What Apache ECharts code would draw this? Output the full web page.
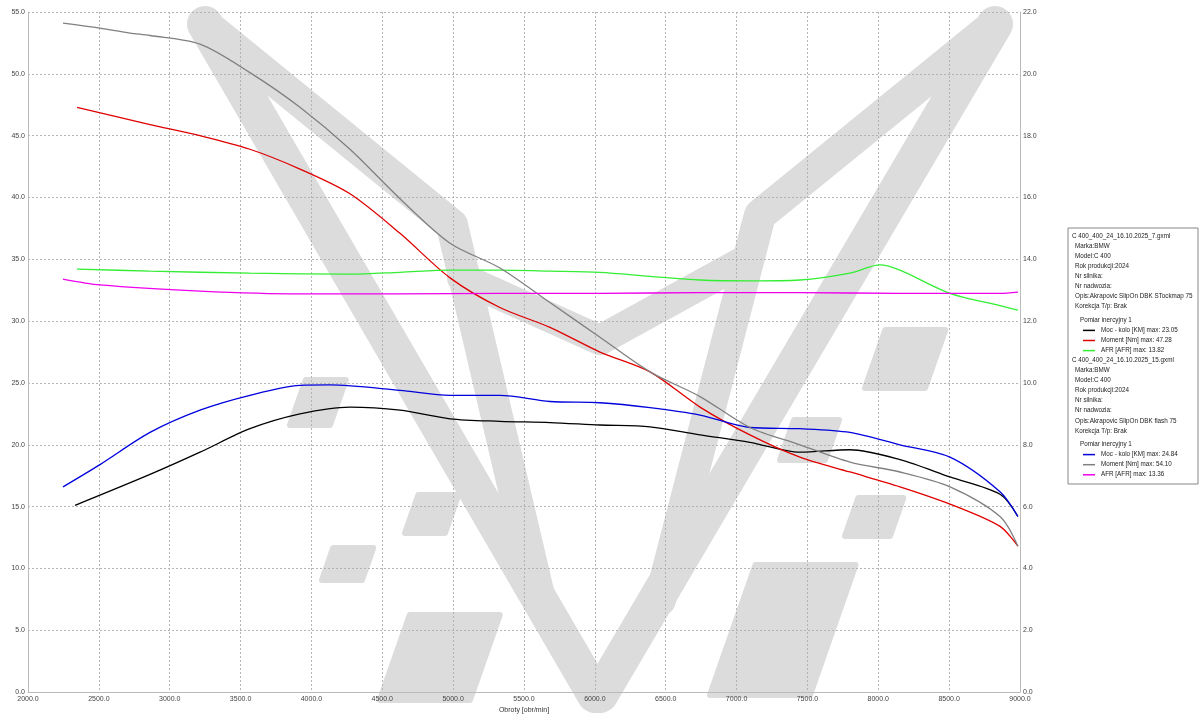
<!DOCTYPE html>
<html lang="pl">
<head>
<meta charset="UTF-8">
<title>Hamownia</title>
<script src="https://cdn.jsdelivr.net/npm/echarts@6/dist/echarts.min.js"></script>
<style>html,body{margin:0;padding:0;background:#fff}#chart{width:1200px;height:719px}</style>
</head>
<body>
<div id="chart"></div>
<script>
// obroty [obr/min] dla poszczególnych przebiegów
var rpm7 = [2332, 2861, 3214, 3566, 3919, 4272, 4625, 4978, 5330, 5683, 6036, 6389, 6742, 7094, 7447, 7800, 8153, 8506, 8859, 8985];
var moc7 = [15.1, 17.6, 19.4, 21.3, 22.5, 23.05, 22.8, 22.1, 21.9, 21.8, 21.6, 21.45, 20.8, 20.2, 19.4, 19.6, 18.8, 17.4, 16.0, 14.2];
var rpmM7 = [2346, 2861, 3214, 3566, 3919, 4272, 4625, 4978, 5330, 5683, 6036, 6389, 6742, 7094, 7447, 7800, 8153, 8506, 8859, 8985];
var moment7 = [47.28, 45.9, 45.0, 43.9, 42.3, 40.3, 37.1, 33.5, 31.1, 29.5, 27.5, 25.9, 23.05, 20.8, 19.0, 17.8, 16.6, 15.2, 13.4, 11.8];
var rpmA7 = [2346, 2861, 3566, 4272, 4625, 4978, 5330, 5683, 6036, 6389, 6742, 7094, 7447, 7800, 8012, 8153, 8506, 8859, 8985];
var afr7 = [13.68, 13.62, 13.55, 13.52, 13.58, 13.65, 13.65, 13.62, 13.58, 13.45, 13.33, 13.3, 13.33, 13.55, 13.82, 13.65, 12.9, 12.5, 12.36];

var rpm15 = [2247, 2508, 2861, 3214, 3566, 3919, 4131, 4625, 4978, 5330, 5683, 6036, 6389, 6742, 7094, 7447, 7800, 8153, 8506, 8859, 8985];
var moc15 = [16.6, 18.4, 21.0, 22.8, 24.0, 24.8, 24.84, 24.4, 24.0, 24.0, 23.5, 23.4, 23.0, 22.4, 21.4, 21.3, 21.0, 20.0, 19.0, 16.2, 14.2];
var rpmM15 = [2247, 2508, 2720, 2861, 3214, 3566, 3919, 4272, 4625, 4978, 5330, 5683, 6036, 6389, 6742, 7094, 7447, 7800, 8153, 8506, 8859, 8985];
var moment15 = [54.1, 53.7, 53.3, 53.1, 52.4, 50.1, 47.3, 43.9, 39.9, 36.3, 34.3, 31.5, 28.7, 25.9, 23.9, 21.4, 20.0, 18.6, 17.8, 16.6, 14.2, 11.8];
var rpmA15 = [2247, 2508, 3214, 3919, 4625, 5330, 6036, 6742, 7447, 8153, 8859, 8985];
var afr15 = [13.36, 13.17, 12.97, 12.88, 12.88, 12.9, 12.9, 12.92, 12.92, 12.9, 12.9, 12.94];

var legend7 = ['C 400_400_24_16.10.2025_7.gxml', 'Marka:BMW', 'Model:C 400', 'Rok produkcji:2024', 'Nr silnika:', 'Nr nadwozia:', 'Opis:Akrapovic SlipOn DBK STockmap 75', 'Korekcja T/p: Brak'];
var legend15 = ['C 400_400_24_16.10.2025_15.gxml', 'Marka:BMW', 'Model:C 400', 'Rok produkcji:2024', 'Nr silnika:', 'Nr nadwozia:', 'Opis:Akrapovic SlipOn DBK flash 75', 'Korekcja T/p: Brak'];
var series7 = [['Moc - kolo [KM] max: 23.05', '#000000'], ['Moment [Nm] max: 47.28', '#e00000'], ['AFR [AFR] max: 13.82', '#33ee33']];
var series15 = [['Moc - kolo [KM] max: 24.84', '#0000dd'], ['Moment [Nm] max: 54.10', '#808080'], ['AFR [AFR] max: 13.36', '#ee00ee']];

function zip(xs, ys) { return xs.map(function (x, i) { return [x, ys[i]]; }); }

var chart = echarts.init(document.getElementById('chart'));
var font = 'Liberation Sans';
var gridLine = { show: true, lineStyle: { color: '#b4b4b4', type: [2, 2], width: 1 } };

// znak wodny
var wm = '#dcdcdc';
var strokes = [
    [[[205, 24], [595, 695]], 36],
    [[[205, 24], [452, 225], [540, 600]], 32],
    [[[462, 278], [600, 340], [742, 262]], 30],
    [[[995, 24], [600, 695]], 36],
    [[[995, 24], [760, 215], [660, 600]], 32]
];
var gfx = [];
strokes.forEach(function (s) {
    gfx.push({ type: 'polyline', z: -10, shape: { points: s[0] },
               style: { stroke: wm, lineWidth: s[1], lineJoin: 'round', lineCap: 'round' } });
});
var paras = [[290, 380, 40, 45], [405, 495, 40, 38], [322, 548, 40, 32], [380, 615, 90, 85], [710, 565, 100, 130], [865, 330, 60, 58], [780, 420, 45, 40], [845, 498, 45, 38]];
paras.forEach(function (p) {
    var x = p[0], y = p[1], w = p[2], h = p[3], s = h * 0.35;
    gfx.push({ type: 'polygon', z: -10, shape: { points: [[x + s, y], [x + s + w, y], [x + w, y + h], [x, y + h]] },
               style: { fill: wm, stroke: wm, lineWidth: 6, lineJoin: 'round' } });
});

// legenda
var lx = 1068, ly = 228, lh = 10.1, fs = 6.3;
gfx.push({ type: 'rect', shape: { x: lx, y: ly, width: 130, height: 256 }, style: { fill: '#fff', stroke: '#888', lineWidth: 1 } });
var yy = ly + 5;
function block(lines, ser) {
    lines.forEach(function (t, i) {
        gfx.push({ type: 'text', style: { x: lx + (i === 0 ? 4 : 7), y: yy, text: t, fontSize: fs, fontFamily: font, fill: '#222' } });
        yy += lh;
    });
    yy += 3;
    gfx.push({ type: 'text', style: { x: lx + 12, y: yy, text: 'Pomiar inercyjny 1', fontSize: fs, fontFamily: font, fill: '#222' } });
    yy += lh;
    ser.forEach(function (s) {
        gfx.push({ type: 'line', shape: { x1: lx + 15, y1: yy + 3.5, x2: lx + 27, y2: yy + 3.5 }, style: { stroke: s[1], lineWidth: 1.5 } });
        gfx.push({ type: 'text', style: { x: lx + 33, y: yy, text: s[0], fontSize: fs, fontFamily: font, fill: '#222' } });
        yy += lh;
    });
}
block(legend7, series7);
block(legend15, series15);

function line(name, data, color, axis) {
    return { name: name, type: 'line', data: data, yAxisIndex: axis, showSymbol: false, smooth: 0.3,
             lineStyle: { color: color, width: 1.3 }, itemStyle: { color: color }, z: 5 };
}
var lbl = { fontSize: 7, fontFamily: font, color: '#444', margin: 3, formatter: function (v) { return v.toFixed(1); } };

chart.setOption({
    animation: false,
    grid: { left: 28, right: 180, top: 12, bottom: 22 },
    graphic: gfx,
    xAxis: {
        type: 'value', min: 2000, max: 9000, interval: 500,
        name: 'Obroty [obr/min]', nameLocation: 'middle', nameGap: 12,
        nameTextStyle: { fontSize: 7, fontFamily: font, color: '#333' },
        axisLine: { lineStyle: { color: '#bbb' } }, axisTick: { show: false },
        axisLabel: lbl, splitLine: gridLine
    },
    yAxis: [{
        type: 'value', min: 0, max: 55, interval: 5,
        axisLine: { show: true, lineStyle: { color: '#bbb' } }, axisTick: { show: false },
        axisLabel: lbl, splitLine: gridLine
    }, {
        type: 'value', min: 0, max: 22, interval: 2, position: 'right',
        axisLine: { show: true, lineStyle: { color: '#bbb' } }, axisTick: { show: false },
        axisLabel: lbl, splitLine: { show: false }
    }],
    series: [
        line('Moc 7', zip(rpm7, moc7), '#000000', 0),
        line('Moment 7', zip(rpmM7, moment7), '#e00000', 0),
        line('AFR 7', zip(rpmA7, afr7), '#33ee33', 1),
        line('Moc 15', zip(rpm15, moc15), '#0000dd', 0),
        line('Moment 15', zip(rpmM15, moment15), '#808080', 0),
        line('AFR 15', zip(rpmA15, afr15), '#ee00ee', 1)
    ]
});
</script>
</body>
</html>
